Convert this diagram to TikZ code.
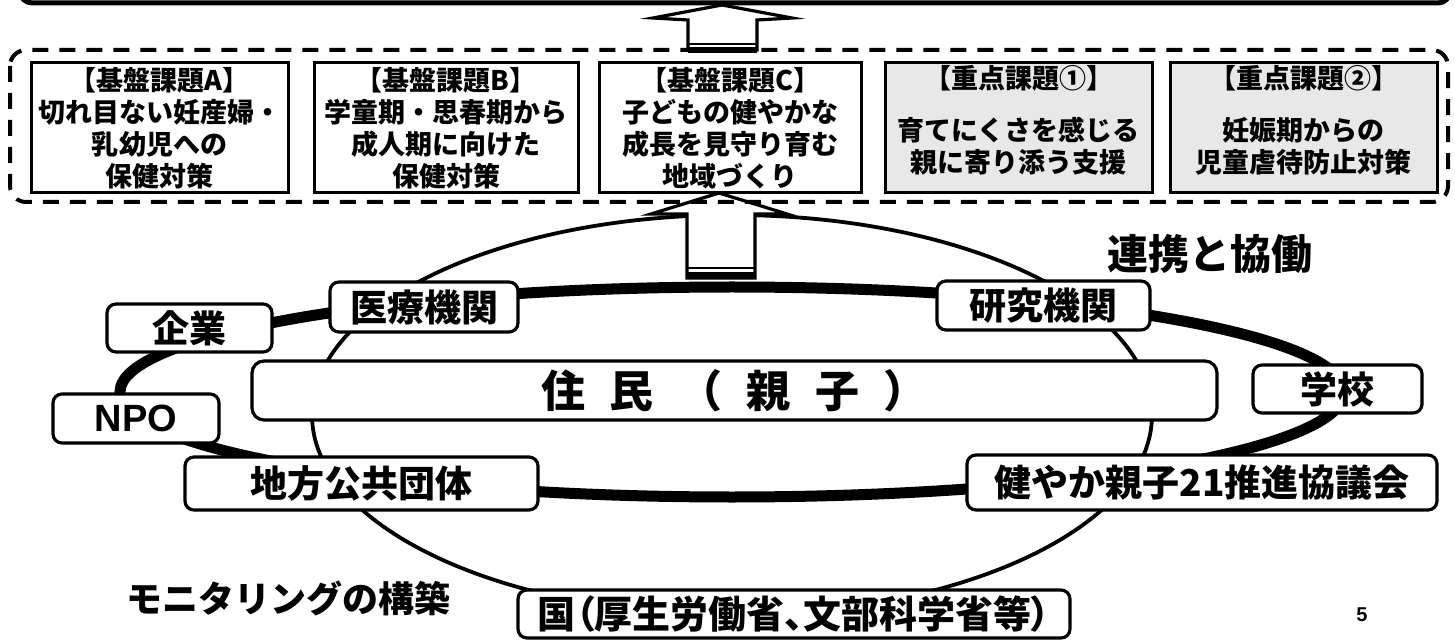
\documentclass[tikz,border=0pt]{standalone}
\usepackage{fontspec}
\newfontfamily\jp{Noto Sans CJK JP}
\newfontfamily\jpp{Noto Sans CJK JP}[RawFeature=+palt]
\newfontfamily\lsans{Liberation Sans}
\begin{document}
\begin{tikzpicture}[x=0.5pt,y=-0.5pt,
  topbox/.style={draw, line width=1.5pt, minimum height=65pt, inner sep=0pt},
  toptext/.style={align=center, inner sep=0pt, font=\jp\bfseries\fontsize{13.5}{16}\selectfont},
  lab/.style={draw, fill=white, line width=1.6pt, rounded corners=4.5pt, inner sep=0pt,
    font=\jp\bfseries\fontsize{18.5}{20}\selectfont},
  ring/.style={line width=5.5pt},
  thinring/.style={line width=1.9pt},
  blockarrow/.style={draw, fill=white, line width=1.6pt, line join=miter},
  dashbox/.style={line width=2pt, dash pattern=on 8pt off 5.5pt, rounded corners=8pt},
  bigtext/.style={inner sep=0pt, font=\jp\bfseries\fontsize{20.5}{22}\selectfont},
]
\useasboundingbox (0,0) rectangle (1455,641);
\clip (0,0) rectangle (1455,641);
\fill[white] (0,0) rectangle (1455,641);

% top frame (bottom edge of the box above)
\draw[line width=2.5pt, rounded corners=6pt] (20,-40) rectangle (1450,3);

% ellipses
\draw[thinring] (732,415) ellipse [x radius=210pt, y radius=100pt];
\draw[ring] (732,392) ellipse [x radius=306pt, y radius=52.5pt];

% lower block arrow
\draw[blockarrow] (687,278) -- (687,214) -- (651,214) -- (719,193) -- (787,214) -- (755,214) -- (755,278) -- cycle;
\draw[line width=1pt] (687,268) -- (755,268);
\draw[line width=2.5pt] (687,275) -- (755,275);

% dashed frame
\draw[dashbox] (10,50) rectangle (1448,202);

% top boxes
\node[topbox, minimum width=128.5pt] (A) at (159.5,128) {};
\node[topbox, minimum width=132pt] (B) at (446,128) {};
\node[topbox, minimum width=131pt] (C) at (730,128) {};
\node[topbox, minimum width=133.5pt, fill=gray!18] (P1) at (1018.5,128) {};
\node[topbox, minimum width=133.5pt, fill=gray!18] (P2) at (1303.5,128) {};
\node[toptext] (At) at (A.center) {【基盤課題A】\\切れ目ない妊産婦・\\乳幼児への\\保健対策};
\node[toptext] (Bt) at (B.center) {【基盤課題B】\\学童期・思春期から\\成人期に向けた\\保健対策};
\node[toptext] (Ct) at (C.center) {【基盤課題C】\\子どもの健やかな\\成長を見守り育む\\地域づくり};
\node[toptext] (P1t) at ([yshift=4pt]P1.center) {【重点課題①】\\[10pt]育てにくさを感じる\\親に寄り添う支援};
\node[toptext] (P2t) at ([yshift=4pt]P2.center) {【重点課題②】\\[10pt]妊娠期からの\\児童虐待防止対策};

% top block arrow
\draw[blockarrow] (688,50) -- (688,20) -- (653,18) -- (722,5) -- (792,18) -- (757,20) -- (757,50) -- cycle;
\draw[line width=1pt] (688,44) -- (757,44);
\draw[line width=3pt] (688,50) -- (757,50);

% labels on the ring
\node[lab, minimum width=82.5pt, minimum height=24pt] (kigyo) at (189.5,328) {企業};
\node[lab, minimum width=94pt, minimum height=25pt] (iryo) at (424,307) {医療機関};
\node[lab, minimum width=106.5pt, minimum height=24.5pt] (kenkyu) at (1043.5,305.5) {研究機関};
\node[lab, minimum width=84.5pt, minimum height=24pt] (gakko) at (1337.5,389) {学校};
\node[lab, minimum width=83pt, minimum height=24.5pt, font=\lsans\bfseries\fontsize{19}{20}\selectfont] (npo) at (136,418.5) {NPO};
\node[lab, minimum width=176.5pt, minimum height=26.5pt] (chiho) at (361.5,483.5) {地方公共団体};
\node[lab, minimum width=235pt, minimum height=27.5pt] (sukoyaka) at (1202,482.5) {健やか親子21推進協議会};
\node[lab, minimum width=276pt, minimum height=24pt, font=\jpp\bfseries\fontsize{19}{20}\selectfont] (kuni) at (794,614) {国（厚生労働省、文部科学省等）};
\node[lab, rounded corners=6pt, minimum width=482.5pt, minimum height=29.5pt, font=\jp\bfseries\fontsize{22}{24}\selectfont] (jumin) at (734.5,390.5)
  {\makebox[34.25pt]{住}\makebox[34.25pt]{民}\makebox[34.25pt]{（}\makebox[34.25pt]{親}\makebox[34.25pt]{子}\makebox[34.25pt]{）}};

% free texts
\node[bigtext] (renkei) at (1210,254) {連携と協働};
\node[bigtext, font=\jp\bfseries\fontsize{18}{20}\selectfont] (monitor) at (288,598) {モニタリングの構築};
\node[inner sep=0pt, font=\lsans\bfseries\fontsize{10}{12}\selectfont] (page) at (1362,615) {5};
\end{tikzpicture}
\end{document}
